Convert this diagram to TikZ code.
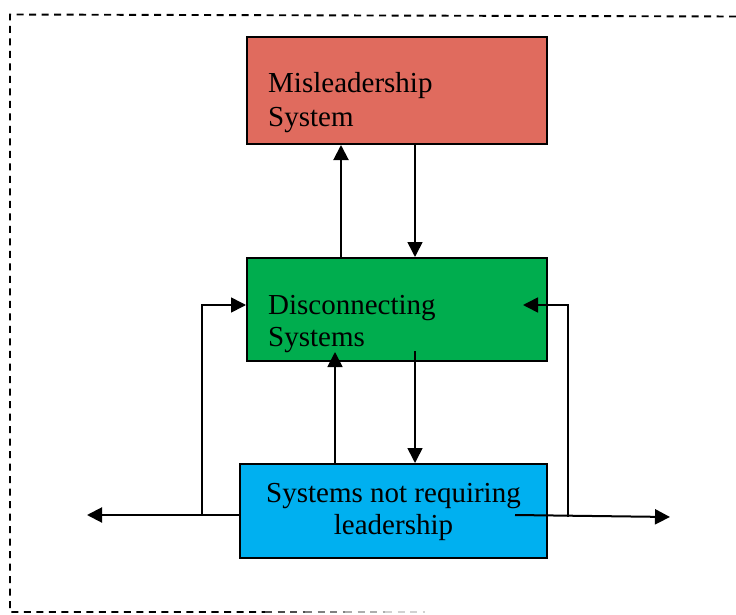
\documentclass[tikz,border=0pt]{standalone}
\usepackage{fontspec}
\setmainfont{Liberation Serif}
\usetikzlibrary{arrows.meta,calc}
\definecolor{redc}{RGB}{224,107,94}
\definecolor{grnc}{RGB}{0,173,78}
\definecolor{bluc}{RGB}{0,176,240}
\tikzset{
  boxnode/.style={draw=black, line width=2pt, inner sep=0pt},
  lbl/.style={inner sep=0pt, font=\fontsize{29pt}{34pt}\selectfont},
  arr/.style={line width=2pt, -{Triangle[length=15pt,width=15pt]}},
  frame/.style={line width=1.9pt, dash pattern=on 7pt off 5.5pt},
}
\begin{document}
\begin{tikzpicture}[x=1pt,y=-1pt]
\useasboundingbox (0,0) rectangle (736,615);
% frame
\draw[frame] (736,16.5) -- (10,14.5) -- (10,612) -- (265,612);
\draw[frame, black!70] (265,612) -- (305,612);
\draw[frame, black!50] (305,612) -- (345,612);
\draw[frame, black!32] (345,612) -- (385,612);
\draw[frame, black!18] (385,612) -- (425,612);
% boxes
\node[boxnode, fill=redc, minimum width=300pt, minimum height=107pt] (mis) at (397,90.5) {};
\node[boxnode, fill=grnc, minimum width=300pt, minimum height=103pt] (grn) at (397,309.5) {};
\node[boxnode, fill=bluc, minimum width=307pt, minimum height=93.5pt] (blu) at (393.5,510.75) {};
% texts
\node[lbl, anchor=base west] (mis1) at (268,93) {Misleadership};
\node[lbl, anchor=base west] (mis2) at (268,126.7) {System};
\node[lbl, anchor=base west] (grn1) at (268,314.5) {Disconnecting};
\node[lbl, anchor=base west] (grn2) at (268,346.7) {Systems};
\node[lbl, anchor=base] (blu1) at (393.5,502.3) {Systems not requiring};
\node[lbl, anchor=base] (blu2) at (393.5,534.3) {leadership};
% helper coordinates
\coordinate (cA) at (341,0);
\coordinate (cB) at (415,0);
\coordinate (cC) at (335,0);
\coordinate (cL) at (202,0);
\coordinate (cR) at (568,0);
\coordinate (r305) at (0,305);
\coordinate (r515) at (0,515);
\coordinate (lend) at (87,515);
\coordinate (rstart) at (515,515);
\coordinate (rend) at (670,517);
\coordinate (rtip) at (523,305);
\coordinate (gin) at (335,352);
\coordinate (gout) at (415,351);
% connectors
\draw[arr] (grn.north -| cA) -- (mis.south -| cA);
\draw[arr, line width=1.6pt] (mis.south -| cB) -- (grn.north -| cB);
\draw[arr, line width=1.6pt] (blu.north -| cC) -- (gin);
\draw[arr, line width=1.6pt] (gout) -- (blu.north -| cB);
\draw[arr] (blu.west |- r515) -- (lend);
\draw[arr, line width=1.6pt] (cL |- r515) -- (cL |- r305) -- (grn.west |- r305);
\draw[arr] (rstart) -- (rend);
\draw[arr, line width=1.6pt] (568,517) -- (cR |- r305) -- (rtip);
\end{tikzpicture}
\end{document}
